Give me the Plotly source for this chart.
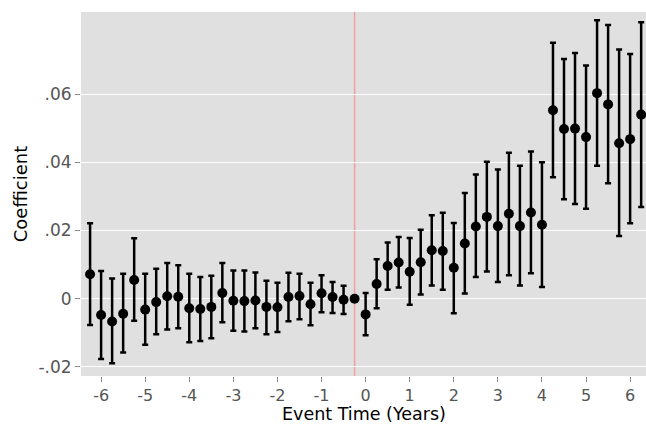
import plotly.graph_objects as go

event_time = [-6.25, -6.0, -5.75, -5.5, -5.25, -5.0, -4.75, -4.5, -4.25, -4.0, -3.75, -3.5, -3.25,
              -3.0, -2.75, -2.5, -2.25, -2.0, -1.75, -1.5, -1.25, -1.0, -0.75, -0.5, -0.25,
              0.0, 0.25, 0.5, 0.75, 1.0, 1.25, 1.5, 1.75, 2.0, 2.25, 2.5, 2.75, 3.0, 3.25,
              3.5, 3.75, 4.0, 4.25, 4.5, 4.75, 5.0, 5.25, 5.5, 5.75, 6.0, 6.25]
coef = [0.0072, -0.0048, -0.0067, -0.0044, 0.0055, -0.0032, -0.0010, 0.0007, 0.0006, -0.0028,
        -0.0030, -0.0024, 0.0017, -0.0006, -0.0007, -0.0005, -0.0024, -0.0025, 0.0005, 0.0008,
        -0.0016, 0.0016, 0.0005, -0.0003, 0.0,
        -0.0046, 0.0043, 0.0096, 0.0106, 0.0079, 0.0107, 0.0142, 0.0140, 0.0091, 0.0162,
        0.0212, 0.0240, 0.0213, 0.0249, 0.0213, 0.0253, 0.0217, 0.0553, 0.0498, 0.0499,
        0.0474, 0.0603, 0.0570, 0.0456, 0.0468, 0.0540]
ci_upper = [0.0221, 0.0081, 0.0059, 0.0073, 0.0177, 0.0073, 0.0088, 0.0105, 0.0098, 0.0073,
            0.0064, 0.0067, 0.0105, 0.0083, 0.0083, 0.0077, 0.0053, 0.0047, 0.0076, 0.0073,
            0.0047, 0.0069, 0.0049, 0.0038, 0.0,
            0.0017, 0.0116, 0.0165, 0.0181, 0.0178, 0.0202, 0.0245, 0.0252, 0.0222, 0.0310,
            0.0364, 0.0402, 0.0379, 0.0428, 0.0390, 0.0432, 0.0400, 0.0751, 0.0703, 0.0721,
            0.0684, 0.0817, 0.0803, 0.0731, 0.0718, 0.0811]
ci_lower = [-0.0077, -0.0177, -0.0189, -0.0158, -0.0065, -0.0135, -0.0104, -0.0090, -0.0087, -0.0128,
            -0.0124, -0.0116, -0.0069, -0.0094, -0.0096, -0.0087, -0.0104, -0.0098, -0.0066, -0.0060,
            -0.0078, -0.0040, -0.0042, -0.0045, 0.0,
            -0.0107, -0.0028, 0.0026, 0.0033, -0.0018, 0.0012, 0.0039, 0.0026, -0.0043, 0.0015,
            0.0064, 0.0080, 0.0049, 0.0069, 0.0039, 0.0075, 0.0034, 0.0356, 0.0292, 0.0278,
            0.0264, 0.0390, 0.0339, 0.0184, 0.0221, 0.0269]
reference_period = -0.25

x_tick_vals = [-6, -5, -4, -3, -2, -1, 0, 1, 2, 3, 4, 5, 6]
x_tick_text = ["-6", "-5", "-4", "-3", "-2", "-1", "0", "1", "2", "3", "4", "5", "6"]
y_tick_vals = [-0.02, 0, 0.02, 0.04, 0.06]
y_tick_text = ["-.02", "0", ".02", ".04", ".06"]
x_title = "Event Time (Years)"
y_title = "Coefficient"

err_plus = [u - c for u, c in zip(ci_upper, coef)]
err_minus = [c - l for c, l in zip(coef, ci_lower)]
show_err = [not (u == 0 and l == 0) for u, l in zip(ci_upper, ci_lower)]
err_plus = [e if s else None for e, s in zip(err_plus, show_err)]
err_minus = [e if s else None for e, s in zip(err_minus, show_err)]

fig = go.Figure()
fig.add_shape(type="line", x0=reference_period, x1=reference_period, xref="x",
              y0=0, y1=1, yref="paper", line=dict(color="#F4A0A0", width=1.5), layer="below")
fig.add_trace(go.Scatter(
    x=event_time, y=coef, mode="markers",
    marker=dict(color="black", size=10),
    error_y=dict(type="data", symmetric=False, array=err_plus, arrayminus=err_minus,
                 color="black", thickness=2.5, width=3),
    showlegend=False, cliponaxis=True,
))

font_family = "DejaVu Sans"
fig.update_layout(
    width=646, height=424,
    margin=dict(l=81, r=0, t=12, b=48),
    paper_bgcolor="white", plot_bgcolor="#E0E0E0",
    font=dict(family=font_family, color="black"),
)
fig.update_xaxes(
    range=[-6.456, 6.36], tickvals=x_tick_vals, ticktext=x_tick_text,
    showgrid=False, zeroline=False, ticks="outside", ticklen=5, tickcolor="#888888",
    tickfont=dict(size=16, color="#555555"),
)
fig.update_yaxes(
    range=[-0.02267, 0.0841], tickvals=y_tick_vals, ticktext=y_tick_text,
    showgrid=True, gridcolor="white", gridwidth=1.2, zeroline=False,
    ticks="outside", ticklen=5, tickcolor="#888888",
    tickfont=dict(size=17, color="#555555"),
    title=dict(text=y_title, font=dict(size=18, color="black"), standoff=6),
)
fig.add_annotation(
    text=x_title, xref="paper", yref="paper", x=0.5, y=0,
    xanchor="center", yanchor="top", yshift=-27, showarrow=False, borderpad=0,
    font=dict(size=17.5, color="black"),
)

fig.write_html("out.html", config={"displayModeBar": False},
               post_script="document.body.style.margin='0';document.body.style.padding='0';document.body.style.overflow='hidden';")
